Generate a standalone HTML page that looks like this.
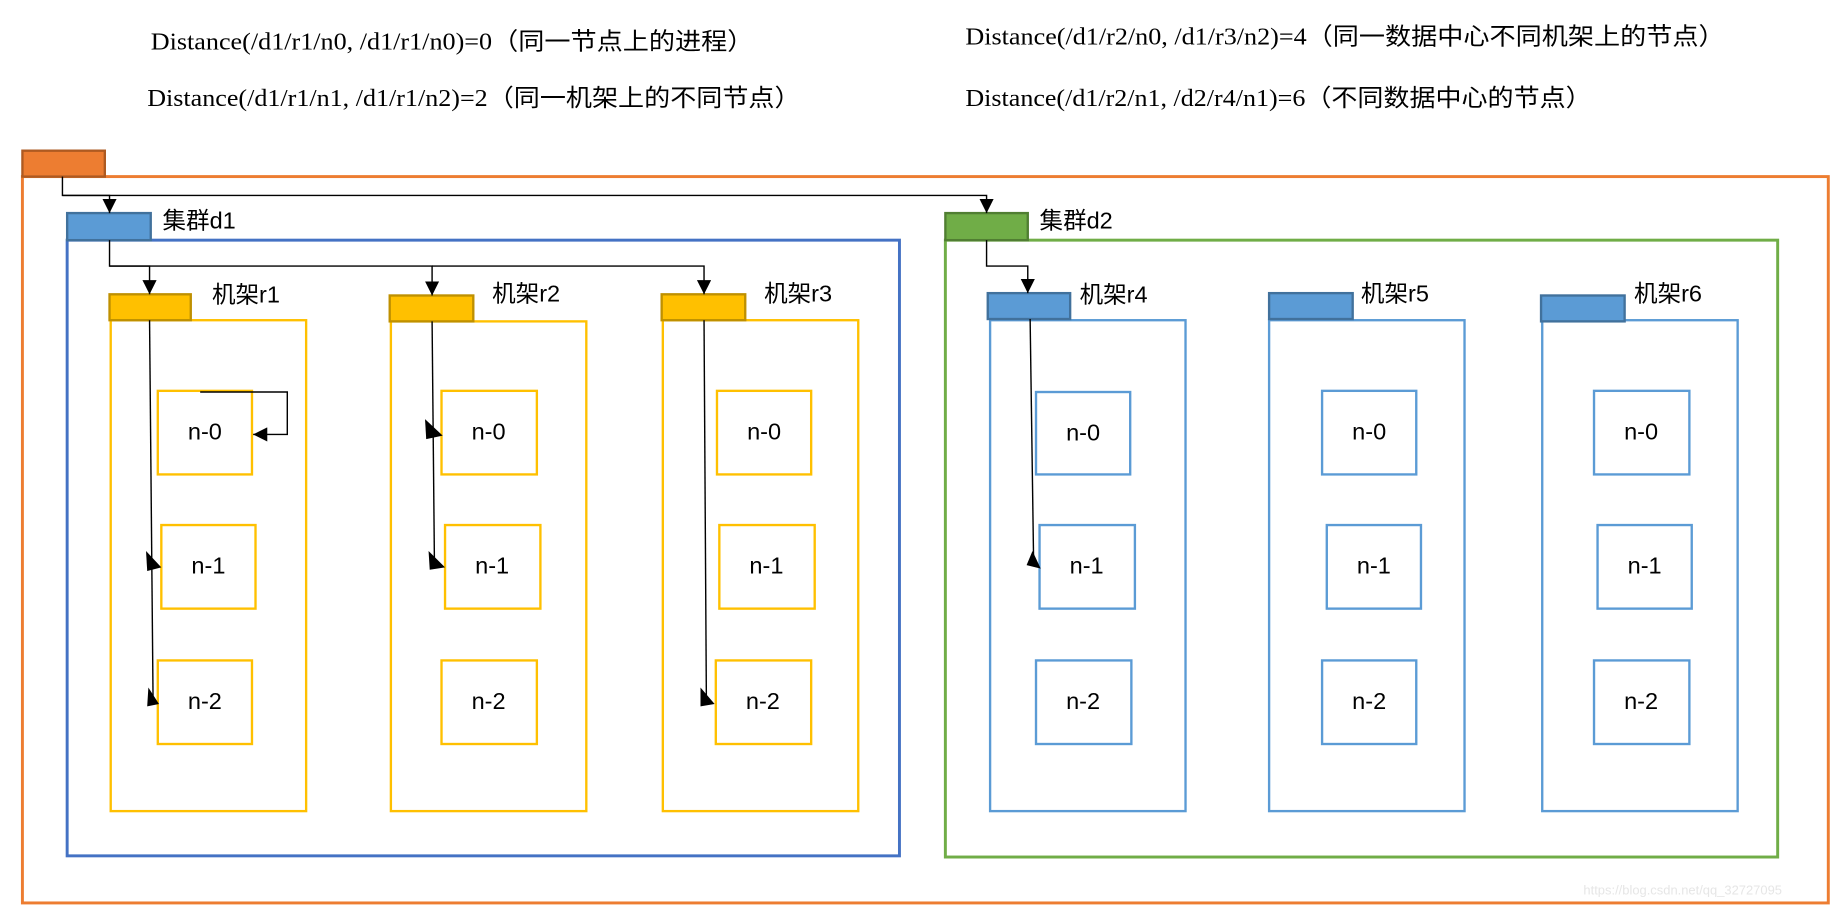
<!DOCTYPE html>
<html><head><meta charset="utf-8"><style>
html,body{margin:0;padding:0;background:#fff;}
svg{display:block;}
text{font-family:"Liberation Sans","Noto Sans CJK SC",sans-serif;}
.h{font-family:"Liberation Serif","Noto Sans CJK SC",serif;font-size:20.5px;}
.lb{font-size:20px;}
.n{font-size:20px;text-anchor:middle;dominant-baseline:middle;}
</style></head><body>
<svg width="1846" height="908" viewBox="0 0 1568 771.3" xmlns="http://www.w3.org/2000/svg">
<defs><marker id="a" markerWidth="12" markerHeight="12" refX="12" refY="6" orient="auto" markerUnits="userSpaceOnUse"><path d="M0,0 L12,6 L0,12 z" fill="#000"/></marker></defs>
<rect width="1568" height="772" fill="#fff"/>
<text class="h" x="128" y="42" textLength="512" lengthAdjust="spacingAndGlyphs">Distance(/d1/r1/n0, /d1/r1/n0)=0（同一节点上的进程）</text>
<text class="h" x="125" y="90" textLength="555" lengthAdjust="spacingAndGlyphs">Distance(/d1/r1/n1, /d1/r1/n2)=2（同一机架上的不同节点）</text>
<text class="h" x="820" y="38" textLength="645" lengthAdjust="spacingAndGlyphs">Distance(/d1/r2/n0, /d1/r3/n2)=4（同一数据中心不同机架上的节点）</text>
<text class="h" x="820" y="90" textLength="532" lengthAdjust="spacingAndGlyphs">Distance(/d1/r2/n1, /d2/r4/n1)=6（不同数据中心的节点）</text>

<rect x="19" y="150" width="1534" height="617" fill="none" stroke="#ED7D31" stroke-width="2.5"/>
<rect x="19" y="128" width="70" height="22" fill="#ED7D31" stroke="#AE5A21" stroke-width="2"/>

<rect x="57" y="204" width="707" height="523" fill="none" stroke="#4472C4" stroke-width="2.5"/>
<rect x="57" y="181" width="71" height="23" fill="#5B9BD5" stroke="#41719C" stroke-width="2"/>
<text class="lb" x="138" y="194">集群d1</text>
<rect x="803" y="204" width="707" height="524" fill="none" stroke="#70AD47" stroke-width="2.5"/>
<rect x="803" y="181" width="70" height="23" fill="#70AD47" stroke="#507E32" stroke-width="2"/>
<text class="lb" x="883" y="194">集群d2</text>

<g fill="none" stroke="#FFC000" stroke-width="2">
<rect x="94" y="272" width="166" height="417"/>
<rect x="332" y="273" width="166" height="416"/>
<rect x="563" y="272" width="166" height="417"/>
<rect x="134" y="332" width="80" height="71"/><rect x="137" y="446" width="80" height="71"/><rect x="134" y="561" width="80" height="71"/>
<rect x="375" y="332" width="81" height="71"/><rect x="378" y="446" width="81" height="71"/><rect x="375" y="561" width="81" height="71"/>
<rect x="609" y="332" width="80" height="71"/><rect x="611" y="446" width="81" height="71"/><rect x="608" y="561" width="81" height="71"/>
</g>
<g fill="#FFC000" stroke="#BF9000" stroke-width="2">
<rect x="93" y="250" width="69" height="22"/><rect x="331" y="251" width="71" height="22"/><rect x="562" y="250" width="71" height="22"/>
</g>
<text class="lb" x="180" y="257">机架r1</text><text class="lb" x="418" y="256">机架r2</text><text class="lb" x="649" y="256">机架r3</text>

<g fill="none" stroke="#5B9BD5" stroke-width="2">
<rect x="841" y="272" width="166" height="417"/>
<rect x="1078" y="272" width="166" height="417"/>
<rect x="1310" y="272" width="166" height="417"/>
<rect x="880" y="333" width="80" height="70"/><rect x="883" y="446" width="81" height="71"/><rect x="880" y="561" width="81" height="71"/>
<rect x="1123" y="332" width="80" height="71"/><rect x="1127" y="446" width="80" height="71"/><rect x="1123" y="561" width="80" height="71"/>
<rect x="1354" y="332" width="81" height="71"/><rect x="1357" y="446" width="80" height="71"/><rect x="1354" y="561" width="81" height="71"/>
</g>
<g fill="#5B9BD5" stroke="#41719C" stroke-width="2">
<rect x="839" y="249" width="70" height="22"/><rect x="1078" y="249" width="71" height="22"/><rect x="1309" y="251" width="71" height="22"/>
</g>
<text class="lb" x="917" y="257">机架r4</text><text class="lb" x="1156" y="256">机架r5</text><text class="lb" x="1388" y="256">机架r6</text>

<text class="n" x="174" y="368">n-0</text><text class="n" x="177" y="482">n-1</text><text class="n" x="174" y="597">n-2</text>
<text class="n" x="415" y="368">n-0</text><text class="n" x="418" y="482">n-1</text><text class="n" x="415" y="597">n-2</text>
<text class="n" x="649" y="368">n-0</text><text class="n" x="651" y="482">n-1</text><text class="n" x="648" y="597">n-2</text>
<text class="n" x="920" y="369">n-0</text><text class="n" x="923" y="482">n-1</text><text class="n" x="920" y="597">n-2</text>
<text class="n" x="1163" y="368">n-0</text><text class="n" x="1167" y="482">n-1</text><text class="n" x="1163" y="597">n-2</text>
<text class="n" x="1394" y="368">n-0</text><text class="n" x="1397" y="482">n-1</text><text class="n" x="1394" y="597">n-2</text>

<g fill="none" stroke="#000" stroke-width="1.2">
<polyline points="53,150 53,166 93,166 93,181" marker-end="url(#a)"/>
<polyline points="53,166 838,166 838,181" marker-end="url(#a)"/>
<polyline points="93,204 93,226 127,226 127,250" marker-end="url(#a)"/>
<polyline points="93,226 367,226 367,251" marker-end="url(#a)"/>
<polyline points="367,226 598,226 598,250" marker-end="url(#a)"/>
<polyline points="838,204 838,226 873,226 873,249" marker-end="url(#a)"/>
<polyline points="170,333 244,333 244,369 215,369" marker-end="url(#a)"/>
<line x1="127" y1="272" x2="130" y2="597"/>
<line x1="367" y1="273" x2="369" y2="480"/>
<line x1="598" y1="272" x2="600" y2="597"/>
<line x1="875" y1="271" x2="878" y2="480"/>
</g>
<g fill="#000">
<path d="M124,468 L137,482 L125,485 z"/>
<path d="M126,584 L135,598 L125,600 z"/>
<path d="M361,356 L376,370 L362,373 z"/>
<path d="M364,468 L378,482 L365,484 z"/>
<path d="M595,584 L607,598 L595,600 z"/>
<path d="M877,468 L884,483 L872,480 z"/>
</g>
<text x="1345" y="760" font-size="11" fill="#e6e6e6">https://blog.csdn.net/qq_32727095</text>
</svg>
</body></html>
